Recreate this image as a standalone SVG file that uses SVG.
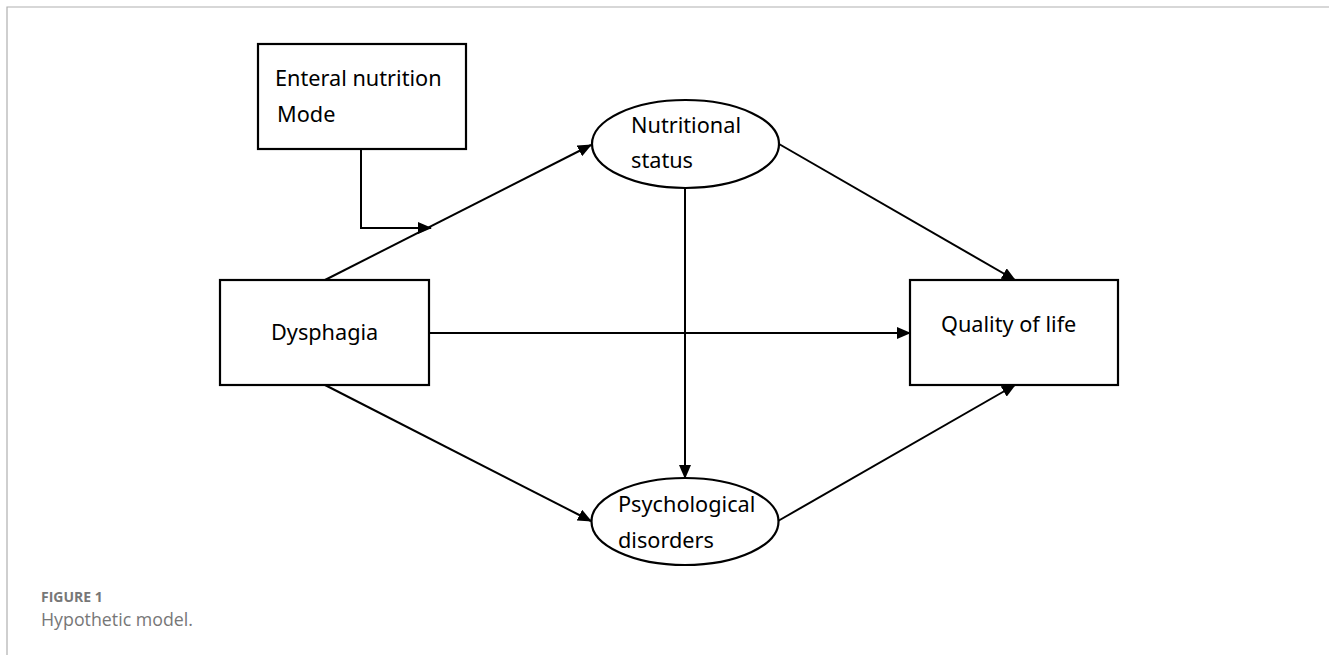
<svg xmlns="http://www.w3.org/2000/svg" width="1329" height="655" viewBox="0 0 1329 655">
<style>
.box{fill:#fff;stroke:#000;stroke-width:2.2}
.lbl{font-family:"Noto Sans","Open Sans",sans-serif;font-size:21.7px;fill:#000}
.con{fill:none;stroke:#000;stroke-width:2}
.frame{fill:none;stroke:#b0b0b0;stroke-width:1.2}
</style>
<defs>
<marker id="ah" markerWidth="14" markerHeight="12" refX="13" refY="6" orient="auto" markerUnits="userSpaceOnUse">
<path d="M0,0 L14,6 L0,12 Z" fill="#000"/>
</marker>
</defs>
<rect width="1329" height="655" fill="#fff"/>
<path class="frame" d="M7,655 L7,7 L1329,7"/>
<g id="connectors">
<line class="con" x1="325" y1="280" x2="591" y2="145" marker-end="url(#ah)"/>
<polyline class="con" points="361,149 361,228 431,228" marker-end="url(#ah)"/>
<line class="con" x1="779" y1="144" x2="1015" y2="280" marker-end="url(#ah)"/>
<line class="con" x1="685" y1="188" x2="685" y2="478" marker-end="url(#ah)"/>
<line class="con" x1="429" y1="333" x2="910" y2="333" marker-end="url(#ah)"/>
<line class="con" x1="325" y1="385" x2="591" y2="521" marker-end="url(#ah)"/>
<line class="con" x1="778" y1="521" x2="1015" y2="385" marker-end="url(#ah)"/>
</g>
<g id="enteral">
<rect class="box" x="258" y="44" width="208" height="105"/>
<text class="lbl" x="275" y="86">Enteral nutrition</text>
<text class="lbl" x="277" y="122">Mode</text>
</g>
<g id="dysphagia">
<rect class="box" x="220" y="280" width="209" height="105"/>
<text class="lbl" x="271" y="340">Dysphagia</text>
</g>
<g id="quality">
<rect class="box" x="910" y="280" width="208" height="105"/>
<text class="lbl" x="941" y="332">Quality of life</text>
</g>
<g id="nutritional">
<ellipse class="box" cx="685.5" cy="144" rx="93.5" ry="44"/>
<text class="lbl" x="631" y="133">Nutritional</text>
<text class="lbl" x="631" y="168">status</text>
</g>
<g id="psychological">
<ellipse class="box" cx="685" cy="521.5" rx="93.5" ry="43.5"/>
<text class="lbl" x="618" y="512">Psychological</text>
<text class="lbl" x="618" y="548">disorders</text>
</g>
<g id="caption" font-family="'Open Sans','Noto Sans',sans-serif" fill="#777">
<text x="41" y="602" font-size="14" font-weight="bold">FIGURE 1</text>
<text x="41" y="626" font-size="17.8">Hypothetic model.</text>
</g>
</svg>
